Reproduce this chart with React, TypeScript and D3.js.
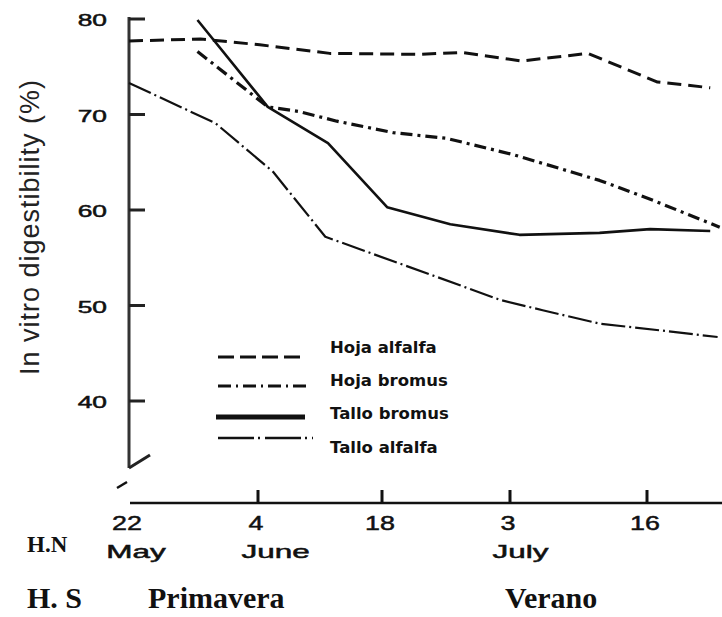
import * as d3 from "d3";

// In vitro digestibility of alfalfa / bromus leaves and stems, 22 May .. late July.
// x is days after 22 May; the original figure's date axis is not evenly spaced,
// so the x scale is piecewise linear through the tick dates.

const tickDays = [0, 13, 27, 42, 55];
const tickLabels = ["22", "4", "18", "3", "16"];
const monthDays = [0.7, 15, 43];
const monthLabels = ["May", "June", "July"];
const yTicks = [40, 50, 60, 70, 80];

const hojaAlfalfaDays = [0, 7.2, 13.2, 21.1, 31.5, 36.4, 43.1, 49.4, 56.0, 61.0];
const hojaAlfalfa = [77.7, 77.9, 77.3, 76.4, 76.3, 76.5, 75.6, 76.4, 73.4, 72.8];

const hojaBromusDays = [6.9, 14.1, 17.7, 21.9, 28.3, 34.6, 42.3, 50.5, 55.6, 61.9];
const hojaBromus = [76.6, 70.8, 70.3, 69.3, 68.1, 67.5, 65.8, 63.1, 61.0, 58.2];

const talloBromusDays = [6.9, 14.1, 20.9, 27.6, 35.0, 42.9, 50.5, 55.3, 61.0];
const talloBromus = [79.9, 70.8, 67.0, 60.3, 58.5, 57.4, 57.6, 58.0, 57.8];

const talloAlfalfaDays = [0, 8.7, 14.7, 20.6, 33.4, 40.8, 45.1, 50.5, 56.2, 61.7];
const talloAlfalfa = [73.3, 69.1, 64.0, 57.2, 53.0, 50.6, 49.5, 48.1, 47.4, 46.7];

const seriesNames = ["Hoja alfalfa", "Hoja bromus", "Tallo bromus", "Tallo alfalfa"];

const W = 722;
const H = 617;
const AX = 129; // y axis x
const AY = 503; // x axis y

const x = d3.scaleLinear().domain(tickDays).range([129, 258, 382, 510, 647]);
const y = d3.scaleLinear().domain([40, 80]).range([401, 19]);

const line = d3
  .line<[number, number]>()
  .x((d) => x(d[0]))
  .y((d) => y(d[1]));

const zip = (a: number[], b: number[]) => a.map((v, i) => [v, b[i]] as [number, number]);

const styles = [
  { data: zip(hojaAlfalfaDays, hojaAlfalfa), w: 3, dash: "14 7", legendDash: "16 6", lw: 3 },
  { data: zip(hojaBromusDays, hojaBromus), w: 3.2, dash: "12 5 3 5", legendDash: "13 5 2 5", lw: 3 },
  { data: zip(talloBromusDays, talloBromus), w: 2.6, dash: undefined, legendDash: undefined, lw: 5 },
  { data: zip(talloAlfalfaDays, talloAlfalfa), w: 2.2, dash: "24 4 2 4", legendDash: "36 4 2 5", lw: 2.4 },
];

// legend rows: line y, text baseline
const legendLineY = [357, 386, 417, 438];
const legendTextY = [353, 386, 419, 453];

const sans = "'Liberation Sans', Arial, sans-serif";
const serif = "'Liberation Serif', 'Times New Roman', serif";

function Wide({ x0, y0, sx, size, children, anchor = "middle" }: any) {
  return (
    <text
      transform={`translate(${x0},${y0}) scale(${sx},1)`}
      fontFamily={sans}
      fontSize={size}
      textAnchor={anchor}
      fill="#111"
      stroke="#111"
      strokeWidth={0.5}
    >
      {children}
    </text>
  );
}

export default function App() {
  return (
    <svg
      width={W}
      height={H}
      viewBox={`0 0 ${W} ${H}`}
      style={{ position: "absolute", left: 0, top: 0, background: "#fff" }}
    >
      <rect width={W} height={H} fill="#fff" />

      {/* y axis with break */}
      <line x1={AX} y1={17} x2={AX} y2={468} stroke="#333" strokeWidth={3} />
      <line x1={AX} y1={468} x2={150} y2={455} stroke="#222" strokeWidth={3} />
      <line x1={117} y1={488} x2={127} y2={482} stroke="#111" strokeWidth={2.5} />
      {yTicks.map((t) => (
        <g key={t}>
          <line x1={AX} x2={145} y1={y(t)} y2={y(t)} stroke="#222" strokeWidth={3} />
          <Wide x0={107} y0={y(t) + 7} sx={1.55} size={17} anchor="end">
            {t}
          </Wide>
        </g>
      ))}
      <text
        transform="translate(39,227) rotate(-90)"
        fontFamily={sans}
        fontSize={27}
        letterSpacing={1}
        textAnchor="middle"
        fill="#222"
      >
        In vitro digestibility (%)
      </text>

      {/* x axis */}
      <line x1={130} x2={W} y1={AY} y2={AY} stroke="#111" strokeWidth={2.5} />
      {tickDays.map((d, i) => (
        <g key={d}>
          {i > 0 && <line x1={x(d)} x2={x(d)} y1={AY} y2={490} stroke="#111" strokeWidth={3} />}
          <Wide x0={x(d) - 2} y0={530} sx={1.28} size={21}>
            {tickLabels[i]}
          </Wide>
        </g>
      ))}
      {monthDays.map((d, i) => (
        <Wide key={i} x0={x(d)} y0={558} sx={1.75} size={18}>
          {monthLabels[i]}
        </Wide>
      ))}

      {/* series */}
      {styles.map((s, i) => (
        <path
          key={i}
          d={line(s.data) ?? ""}
          fill="none"
          stroke="#111"
          strokeWidth={s.w}
          strokeDasharray={s.dash}
          strokeLinejoin="round"
        />
      ))}

      {/* legend */}
      {styles.map((s, i) => (
        <g key={i}>
          <line
            x1={i === 2 ? 216 : 218}
            x2={i === 3 ? 313 : i === 1 ? 307 : 305}
            y1={legendLineY[i]}
            y2={legendLineY[i]}
            stroke="#111"
            strokeWidth={s.lw}
            strokeDasharray={s.legendDash}
          />
          <text
            x={330}
            y={legendTextY[i]}
            fontFamily="'DejaVu Sans', sans-serif"
            fontWeight={700}
            fontSize={16.5}
            fill="#111"
          >
            {seriesNames[i]}
          </text>
        </g>
      ))}

      {/* hemisphere / season labels */}
      <text x={27} y={552} fontFamily={serif} fontWeight={700} fontSize={23} fill="#111">
        H.N
      </text>
      <text x={27} y={608} fontFamily={serif} fontWeight={700} fontSize={30} fill="#111">
        H. S
      </text>
      <text x={148} y={608} fontFamily={serif} fontWeight={700} fontSize={30} fill="#111">
        Primavera
      </text>
      <text x={505} y={608} fontFamily={serif} fontWeight={700} fontSize={30} fill="#111">
        Verano
      </text>
    </svg>
  );
}
